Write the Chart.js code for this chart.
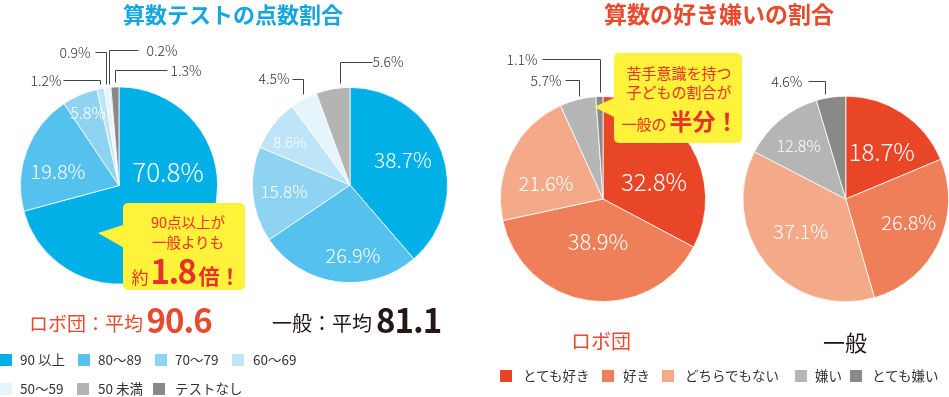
<!DOCTYPE html>
<html>
<head>
<meta charset="utf-8">
<script src="https://cdn.jsdelivr.net/npm/chart.js@4.4.1/dist/chart.umd.min.js"></script>
<style>
  body { margin: 0; width: 949px; height: 397px; overflow: hidden; background: #fff; position: relative;
         font-family: "Noto Sans CJK JP", "Noto Sans", sans-serif; color: #333; }
  canvas { position: absolute; left: 0; top: 0; }
  .t { position: absolute; white-space: nowrap; transform: translate(-50%, -50%); line-height: 1; z-index: 5; }
  .l { position: absolute; white-space: nowrap; transform: translateY(-50%); line-height: 1; z-index: 5; }
  .box { position: absolute; background: #fff23b; border-radius: 5px; z-index: 4; }
  .red { color: #e6312c; }
  .legend-item { position: absolute; font-size: 13.5px; color: #333; line-height: 1; white-space: nowrap; }
  .legend-item i { position: absolute; left: 0; top: 50%; width: 12px; height: 12px; margin-top: -6px; }
  .legend-item span { position: absolute; top: 50%; transform: translateY(-50%); }
</style>
</head>
<body>
<canvas id="pie1" width="949" height="397"></canvas>
<canvas id="pie2" width="949" height="397"></canvas>
<canvas id="pie3" width="949" height="397"></canvas>
<canvas id="pie4" width="949" height="397"></canvas>

<div class="t" style="left:233px;top:13px;font-size:22px;font-weight:700;color:#14a6df;">算数テストの点数割合</div>
<div class="t" style="left:719px;top:13px;font-size:23px;font-weight:700;color:#e84a2d;">算数の好き嫌いの割合</div>

<!-- callout 1 -->
<div class="box" style="left:123px;top:203px;width:122px;height:87px;"></div>
<div class="box" style="left:98px;top:224px;width:28px;height:25px;border-radius:0;clip-path:polygon(0 9px,100% 0,100% 100%);"></div>
<div class="t red" style="left:188px;top:222px;font-size:14.5px;">90点以上が</div>
<div class="t red" style="left:188px;top:242px;font-size:14.5px;">一般よりも</div>
<div class="t red" style="left:186px;top:270px;"><span style="font-size:17px;">約</span><span style="font-size:33px;font-weight:700;letter-spacing:-1.5px;margin:0 3px 0 2px;">1.8</span><span style="font-size:21px;font-weight:700;">倍！</span></div>

<!-- callout 2 -->
<div class="box" style="left:614px;top:53px;width:128px;height:90px;"></div>
<div class="box" style="left:594px;top:97px;width:22px;height:21px;border-radius:0;clip-path:polygon(0 10px,100% 0,100% 100%);"></div>
<div class="t red" style="left:679px;top:72px;font-size:15px;">苦手意識を持つ</div>
<div class="t red" style="left:679px;top:91px;font-size:15px;">子どもの割合が</div>
<div class="t red" style="left:680px;top:120px;"><span style="font-size:15px;">一般の</span><span style="font-size:23px;font-weight:700;margin-left:3px;">半分！</span></div>

<div id="avg1" class="l" style="left:29px;top:319px;color:#e84a2d;"></div>
<div id="avg2" class="l" style="left:272px;top:319px;color:#231815;"></div>

<div class="t" style="left:601px;top:341px;font-size:20px;color:#e84a2d;">ロボ団</div>
<div class="t" style="left:845px;top:341px;font-size:22px;color:#231815;">一般</div>

<div id="legends"></div>

<script>
// ---- data ----
const testCategories = ['90 以上', '80～89', '70～79', '60～69', '50～59', '50 未満', 'テストなし'];
const testColors = ['#00b0e6', '#55c1ee', '#8ed3f2', '#bde4f7', '#e6f4fc', '#b4b4b5', '#898989'];
const robotTestValues = [70.8, 19.8, 5.8, 1.2, 0.9, 0.2, 1.3];
const generalTestValues = [38.7, 26.9, 15.8, 8.6, 4.5, 5.6];

const likeCategories = ['とても好き', '好き', 'どちらでもない', '嫌い', 'とても嫌い'];
const likeColors = ['#e94628', '#ef7f59', '#f4aa89', '#b5b5b6', '#898989'];
const robotLikeValues = [32.8, 38.9, 21.6, 5.7, 1.1];
const generalLikeValues = [18.7, 26.8, 37.1, 12.8, 4.6];

const robotAverage = 90.6;
const generalAverage = 81.1;

// ---- label placement (offsets from pie centre) ----
const pies = [
  { id: 'pie1', values: robotTestValues, labels: testCategories, colors: testColors, cx: 119, cy: 185.5, r: 99,
    inside: [{ i: 0, dx: 49, dy: -13, size: 26 }, { i: 1, dx: -61, dy: -14, size: 20 }, { i: 2, dx: -31, dy: -73, size: 16 }],
    outside: [
      { i: 3, dx: -73, dy: -105, path: [[-56, -105.5], [-19, -105.5], [-19, -101.5]] },
      { i: 4, dx: -44, dy: -133, path: [[-24, -133.5], [-13, -133.5], [-13, -101.5]] },
      { i: 5, dx: 43, dy: -135, path: [[19, -135.5], [-10, -135.5], [-10, -101.5]] },
      { i: 6, dx: 67, dy: -115, path: [[48, -115.5], [-4, -115.5], [-4, -103.5]] }
    ] },
  { id: 'pie2', values: generalTestValues, labels: testCategories, colors: testColors, cx: 350, cy: 185, r: 98,
    inside: [{ i: 0, dx: 53, dy: -25, size: 21 }, { i: 1, dx: 3, dy: 70, size: 20 }, { i: 2, dx: -66, dy: 7, size: 17 }, { i: 3, dx: -60, dy: -43, size: 15 }],
    outside: [
      { i: 4, dx: -76, dy: -106, path: [[-58, -106], [-47, -106], [-47, -91]] },
      { i: 5, dx: 38, dy: -123, path: [[22, -123], [-10, -123], [-10, -102]] }
    ] },
  { id: 'pie3', values: robotLikeValues, labels: likeCategories, colors: likeColors, cx: 603, cy: 199, r: 103,
    inside: [{ i: 0, dx: 51, dy: -17, size: 24 }, { i: 1, dx: -5, dy: 43, size: 22 }, { i: 2, dx: -57, dy: -16, size: 20 }],
    outside: [
      { i: 3, dx: -57, dy: -118, path: [[-38, -119], [-24, -119], [-24, -103]] },
      { i: 4, dx: -81, dy: -139, path: [[-61, -140], [-3, -140], [-3, -107]] }
    ] },
  { id: 'pie4', values: generalLikeValues, labels: likeCategories, colors: likeColors, cx: 846, cy: 199, r: 103.5,
    inside: [{ i: 0, dx: 36, dy: -47, size: 24 }, { i: 1, dx: 63, dy: 23, size: 20 }, { i: 2, dx: -45, dy: 32, size: 20 }, { i: 3, dx: -47, dy: -53, size: 16 }],
    outside: [
      { i: 4, dx: -59, dy: -117, path: [[-38, -118], [-21, -118], [-21, -105]] }
    ] }
];

const FONT = '"Noto Sans CJK JP", "Noto Sans", sans-serif';

const pieLabels = {
  id: 'pieLabels',
  afterDatasetsDraw(chart, args, opts) {
    const ctx = chart.ctx;
    const arc = chart.getDatasetMeta(0).data[0];
    const cx = arc.x, cy = arc.y;
    const vals = chart.data.datasets[0].data;
    ctx.save();
    ctx.textAlign = 'center';
    ctx.textBaseline = 'middle';
    opts.inside.forEach(l => {
      ctx.fillStyle = '#fff';
      ctx.font = '300 ' + l.size + 'px ' + FONT;
      ctx.fillText(vals[l.i].toFixed(1) + '%', cx + l.dx, cy + l.dy);
    });
    opts.outside.forEach(l => {
      ctx.fillStyle = '#333';
      ctx.font = '300 14px ' + FONT;
      ctx.fillText(vals[l.i].toFixed(1) + '%', cx + l.dx, cy + l.dy);
      ctx.strokeStyle = '#444';
      ctx.lineWidth = 1;
      ctx.beginPath();
      l.path.forEach((p, k) => {
        const x = Math.round(cx + p[0]) + 0.5, y = Math.round(cy + p[1]) + 0.5;
        if (k === 0) ctx.moveTo(x, y); else ctx.lineTo(x, y);
      });
      ctx.stroke();
    });
    ctx.restore();
  }
};

pies.forEach(p => {
  const ctx = document.getElementById(p.id).getContext('2d');
  new Chart(ctx, {
    type: 'pie',
    data: {
      labels: p.labels,
      datasets: [{
        data: p.values,
        backgroundColor: p.colors,
        borderColor: '#fff',
        borderWidth: 0.8
      }]
    },
    options: {
      responsive: false,
      animation: false,
      layout: { padding: { left: p.cx - p.r, top: p.cy - p.r, right: 949 - p.cx - p.r, bottom: 397 - p.cy - p.r } },
      plugins: {
        legend: { display: false },
        tooltip: { enabled: false },
        pieLabels: { inside: p.inside, outside: p.outside }
      }
    },
    plugins: [pieLabels]
  });
});

// averages
document.getElementById('avg1').innerHTML =
  '<span style="font-size:19px;">ロボ団：平均</span> <span style="font-size:33px;font-weight:700;letter-spacing:-1px;vertical-align:-2px;">' + robotAverage.toFixed(1) + '</span>';
document.getElementById('avg2').innerHTML =
  '<span style="font-size:20px;">一般：平均</span><span style="font-size:33px;font-weight:700;letter-spacing:-1px;vertical-align:-2px;margin-left:4px;">' + generalAverage.toFixed(1) + '</span>';

// legends
const testLegendPos = [[0, 360, 20], [78, 360, 20], [155, 360, 20], [232, 360, 21], [0, 389, 20], [77, 389, 21], [153, 389, 22]];
const likeLegendPos = [[500, 376, 23], [602, 376, 21], [662, 376, 23], [795, 376, 20], [850, 376, 22]];
const legends = document.getElementById('legends');
function addLegend(cats, colors, pos) {
  cats.forEach((c, k) => {
    const d = document.createElement('div');
    d.className = 'legend-item';
    d.style.left = pos[k][0] + 'px';
    d.style.top = pos[k][1] + 'px';
    d.innerHTML = '<i style="background:' + colors[k] + '"></i><span style="left:' + pos[k][2] + 'px">' + c + '</span>';
    legends.appendChild(d);
  });
}
addLegend(testCategories, testColors, testLegendPos);
addLegend(likeCategories, likeColors, likeLegendPos);
</script>
</body>
</html>
